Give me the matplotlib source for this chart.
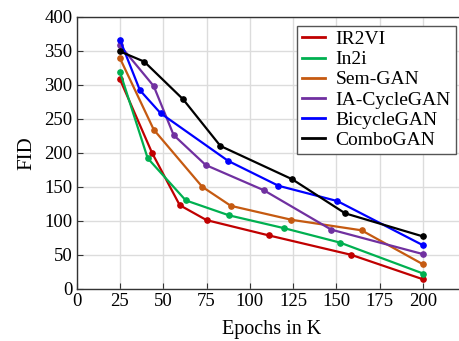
import matplotlib
matplotlib.use("Agg")
import matplotlib.pyplot as plt

# ===== data =====
names = ["IR2VI", "In2i", "Sem-GAN", "IA-CycleGAN", "BicycleGAN", "ComboGAN"]
colors = ["#C00000", "#00B050", "#C55A11", "#7030A0", "#0000FF", "#000000"]

ir2vi_x = [25, 43.5, 59.5, 75, 111, 158.5, 200]
ir2vi_y = [308, 200, 123, 101, 78.5, 50, 14]
in2i_x = [25, 41, 63, 88, 120, 152, 200]
in2i_y = [319, 192, 130, 108, 89, 68, 22.5]
semgan_x = [25, 44.5, 72.5, 89, 124, 164.5, 200]
semgan_y = [339, 234, 150, 122, 101.5, 86, 36]
iacyc_x = [25, 44.5, 56, 74.5, 108, 147, 200]
iacyc_y = [358, 298, 226, 182, 145, 87, 51]
bicyc_x = [25, 36.5, 48.5, 87.5, 116.5, 150.5, 200]
bicyc_y = [366, 292, 258, 188, 151.5, 129, 64]
combo_x = [25, 39, 61.5, 83, 124.5, 155, 200]
combo_y = [349, 334, 278.5, 210, 161, 111, 77]

xs = [ir2vi_x, in2i_x, semgan_x, iacyc_x, bicyc_x, combo_x]
ys = [ir2vi_y, in2i_y, semgan_y, iacyc_y, bicyc_y, combo_y]
# =======================================

plt.rcParams["font.family"] = ["Liberation Serif", "DejaVu Serif"]

fig = plt.figure(figsize=(4.59, 3.41), dpi=100)
ax = fig.add_axes([0.167, 0.153, 0.849, 0.798])

for name, c, x, y in zip(names, colors, xs, ys):
    ax.plot(x, y, color=c, linewidth=1.6, marker="o", markersize=3.8, label=name)

ax.set_xlim(0, 225)
ax.set_ylim(0, 400)
ax.set_xticks(range(0, 201, 25))
ax.set_yticks(range(0, 401, 50))
ax.grid(True, color="#dcdcdc", linewidth=1.0)
ax.set_axisbelow(True)
ax.tick_params(direction="in", length=4, labelsize=13.5, colors="#333333",
               labelcolor="black", pad=3)
for spine in ax.spines.values():
    spine.set_edgecolor("#333333")
    spine.set_linewidth(1.0)

ax.set_xlabel("Epochs in K", fontsize=14.5, labelpad=7)
ax.set_ylabel("FID", fontsize=15, labelpad=6)

leg = ax.legend(loc="upper right", bbox_to_anchor=(455.5 / 459, 1 - 25.7 / 341),
                bbox_transform=fig.transFigure, borderaxespad=0,
                fontsize=14, fancybox=False, framealpha=1, edgecolor="#555555",
                handlelength=1.15, handletextpad=0.55, labelspacing=0.13,
                borderpad=0.25)
for line in leg.get_lines():
    line.set_marker("")
    line.set_linewidth(2.0)

fig.savefig("out.png", dpi=100, facecolor="white")
